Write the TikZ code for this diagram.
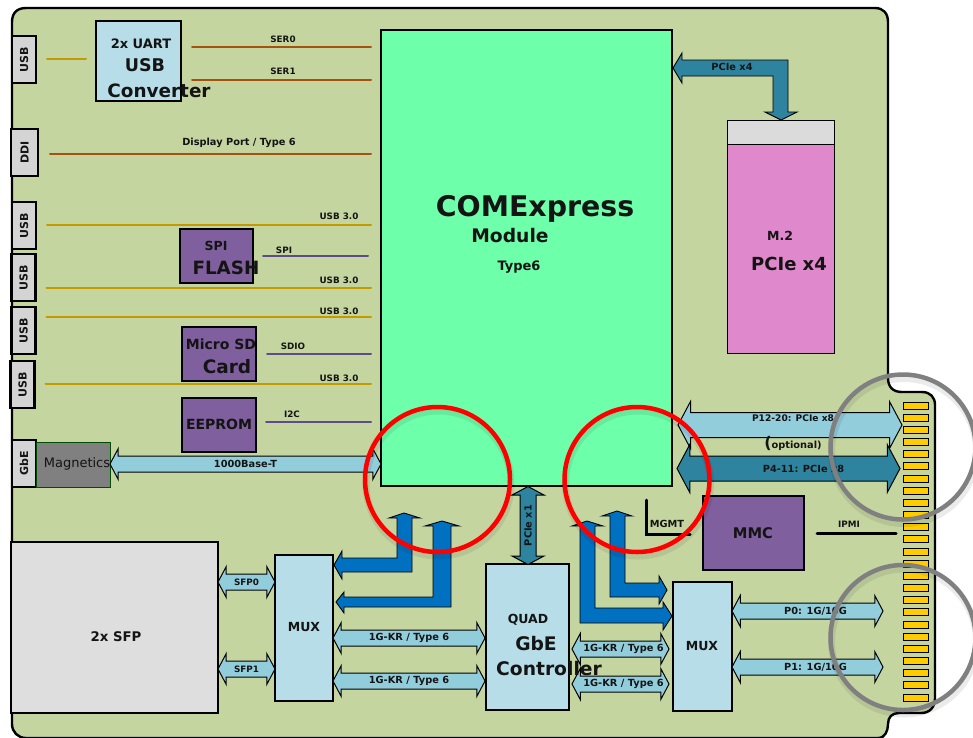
\documentclass[tikz,border=0pt]{standalone}
\usepackage{fontspec}
\setmainfont{DejaVu Sans}
\usepackage{tikz}
\usetikzlibrary{arrows.meta,shapes.arrows}
\definecolor{boardgreen}{HTML}{C5D5A0}
\definecolor{modulegreen}{HTML}{6DFFAA}
\definecolor{chipblue}{HTML}{B7DDE8}
\definecolor{chippurple}{HTML}{7F5F9E}
\definecolor{m2pink}{HTML}{DF89CC}
\definecolor{buslight}{HTML}{92CDDC}
\definecolor{busdark}{HTML}{2E839F}
\definecolor{busblue}{HTML}{0070C0}
\definecolor{wireserial}{HTML}{A5520F}
\definecolor{wireusb}{HTML}{C49A00}
\definecolor{wirepurple}{HTML}{5F4B8B}
\definecolor{fingeryellow}{HTML}{FFCC00}
\definecolor{darktext}{HTML}{141414}
\newcommand{\sized}[1]{\bfseries\fontsize{#1}{#1}\selectfont}

\begin{document}
\begin{tikzpicture}[
    x=1pt,
    y=-1pt,
    every node/.style={outer sep=0pt, text=darktext},
    box/.style={
        draw=black,
        line width=2.4pt,
        inner sep=0pt,
        align=center
    },
    chip/.style={box, fill=chipblue},
    flash/.style={box, fill=chippurple},
    port/.style={
        box,
        fill=black!17,
        minimum width=24pt,
        minimum height=47pt,
        font=\sized{11}
    },
    lbl/.style={inner sep=0pt, font=\sized{8.8}},
    lblwide/.style={inner sep=0pt, font=\sized{9.8}},
    wire/.style={line width=2pt, line cap=round},
    busarrow/.style={
        double arrow,
        draw=black,
        line width=1pt,
        fill=buslight,
        inner sep=0pt,
        text height=15pt,
        text depth=0pt,
        minimum width=30pt,
        double arrow head extend=7.5pt,
        double arrow tip angle=124
    },
    bentarrow/.style={draw=black, line width=0.9pt, fill=busblue},
    ring/.style={line width=4.5pt},
    ringshadow/.style={line width=7pt, draw=black, opacity=0.08}
]
    \useasboundingbox (0,0) rectangle (973,737);

    \draw[line width=2.4pt, fill=boardgreen]
        (12,22) .. controls (12,13) and (17,8) .. (26,8) -- (875,8)
        .. controls (883,8) and (888,13) .. (888,22) -- (888,378)
        .. controls (888,387) and (893,392) .. (902,392) -- (922,392)
        .. controls (930,392) and (935,397) .. (935,405) -- (935,698)
        .. controls (935,707) and (930,713) .. (921,713) -- (899,713)
        .. controls (892,713) and (888,717) .. (888,724)
        .. controls (888,731) and (885,738) .. (878,738) -- (26,738)
        .. controls (18,738) and (12,732) .. (12,724) -- cycle;

    \foreach \i in {0,...,24} {
        \node[draw=black, line width=1pt, fill=fingeryellow, inner sep=0pt,
            minimum width=25pt, minimum height=7pt]
            (finger\i) at (915.5,405.5+12.17*\i) {};
    }

    \node[box, fill=modulegreen, minimum width=291pt, minimum height=456pt]
        (module) at (526.5,258) {};
    \node[chip, minimum width=85pt, minimum height=80pt] (uart) at (138.5,61) {};
    \node[flash, minimum width=73pt, minimum height=54pt] (spiflash) at (216.5,256) {};
    \node[flash, minimum width=74pt, minimum height=54pt] (sdcard) at (219,354) {};
    \node[flash, minimum width=74pt, minimum height=54pt] (eeprom) at (219,425) {};
    \node[box, fill=black!14, line width=1pt, minimum width=107pt, minimum height=24pt]
        (m2slot) at (780.5,132) {};
    \node[box, fill=m2pink, line width=1pt, minimum width=107pt, minimum height=209pt]
        (m2) at (780.5,248.5) {};
    \node[box, fill=black!13, minimum width=207pt, minimum height=171pt]
        (sfp) at (114.5,627.5) {};
    \node[chip, minimum width=58pt, minimum height=146pt] (muxleft) at (304,628) {};
    \node[chip, minimum width=83pt, minimum height=146pt] (quad) at (527.5,637) {};
    \node[chip, minimum width=59pt, minimum height=129pt] (muxright) at (702.5,646.5) {};
    \node[flash, minimum width=101pt, minimum height=74pt] (mmc) at (753.5,533) {};

    \node[port] (usbA) at (24,59.5) {\rotatebox{90}{USB}};
    \node[port, minimum width=27pt] (ddi) at (24.5,152.5) {\rotatebox{90}{DDI}};
    \node[port] (usbB) at (24,225.5) {\rotatebox{90}{USB}};
    \node[port] (usbC) at (23.5,277.5) {\rotatebox{90}{USB}};
    \node[port] (usbD) at (23.5,330.5) {\rotatebox{90}{USB}};
    \node[port] (usbE) at (22.5,384.5) {\rotatebox{90}{USB}};
    \node[port] (gbe) at (24,463.5) {\rotatebox{90}{GbE}};
    \node[draw=black!70!green, line width=0.7pt, fill=black!50, inner sep=0pt,
        minimum width=74pt, minimum height=45pt] (magnetics) at (73,464.5) {};

    \draw[wire, wireusb, shorten <=11pt, shorten >=10pt] (usbA.east |- 0,59) -- (uart.west |- 0,59);
    \draw[wire, wireserial, shorten <=11pt] (uart.east |- 0,47) -- (371,47);
    \draw[wire, wireserial, shorten <=11pt] (uart.east |- 0,80) -- (371,80);
    \draw[wire, wireserial, shorten <=12pt, shorten >=10pt] (ddi.east |- 0,154) -- (module.west |- 0,154);
    \foreach \y/\from in {225/usbB,288/usbC,317/usbD,384/usbE} {
        \draw[wire, wireusb, shorten <=11pt, shorten >=10pt] (\from.east |- 0,\y) -- (module.west |- 0,\y);
    }
    \draw[wire, wirepurple, shorten <=10pt, shorten >=13pt] (spiflash.east |- 0,256) -- (module.west |- 0,256);
    \draw[wire, wirepurple, shorten <=11pt, shorten >=10pt] (sdcard.east |- 0,354) -- (module.west |- 0,354);
    \draw[wire, wirepurple, shorten <=10pt, shorten >=10pt] (eeprom.east |- 0,422) -- (module.west |- 0,422);

    \coordinate (mgmtstart) at (646,500);
    \coordinate (mgmtend) at (690,534);
    \coordinate (ipmiend) at (896,533);
    \draw[line width=3pt, line cap=round] (mgmtstart) |- (mgmtend);
    \draw[line width=3pt, line cap=round, shorten <=13pt] (mmc.east) -- (ipmiend);

    \node[busarrow, minimum height=271pt, label={[lblwide]center:1000Base-T}] (phylink) at (245.5,464) {};
    \node[busarrow, minimum height=57pt, label={[lbl]center:SFP0}] (sfpzero) at (246.5,582) {};
    \node[busarrow, minimum height=57pt, label={[lbl]center:SFP1}] (sfpone) at (246.5,669) {};
    \node[busarrow, minimum height=152pt, label={[lblwide]center:1G-KR / Type 6}] (krA) at (409,638) {};
    \node[busarrow, minimum height=152pt, label={[lblwide]center:1G-KR / Type 6}] (krB) at (409,681) {};
    \node[busarrow, minimum height=97pt, label={[lblwide,xshift=3pt]center:1G-KR / Type 6}] (krC) at (620.5,649) {};
    \node[busarrow, minimum height=97pt, label={[lblwide,xshift=3pt]center:1G-KR / Type 6}] (krD) at (620.5,684) {};
    \node[busarrow, minimum height=151pt, label={[lblwide,xshift=8pt]center:P0: 1G/10G}] (pzero) at (807.5,611) {};
    \node[busarrow, minimum height=151pt, label={[lblwide,xshift=8pt]center:P1: 1G/10G}] (pone) at (807.5,667) {};
    \node[busarrow, minimum height=224pt, text height=24pt, minimum width=46pt, double arrow head extend=11pt,
        label={[lbl,font=\sized{9.1},yshift=7pt,xshift=3pt]center:P12-20: PCIe x8}] (pcieoptional) at (790,425) {};
    \node[busarrow, fill=busdark, minimum height=223pt, text height=24pt, minimum width=47pt, double arrow head extend=11.5pt,
        label={[lblwide,xshift=15pt]center:P4-11: PCIe x8}] (pciemain) at (788.5,468.5) {};
    \node[busarrow, fill=busdark, rotate=90, minimum height=78pt, minimum width=31pt,
        double arrow head extend=8pt, label={[lblwide,rotate=90]center:PCIe x1}] (pcieone) at (528,525.5) {};

    \draw[bentarrow, fill=busdark] (673,68) -- (682,53) -- (682,60) -- (788,60) -- (788,112) -- (797,112)
        -- (781,120) -- (765,112) -- (773,112) -- (773,76) -- (682,76) -- (682,83) -- cycle;
    \draw[bentarrow] (404,513) -- (420,518) -- (412,518) -- (412,572) -- (342,572) -- (342,579)
        -- (334,565) -- (342,551) -- (342,558) -- (397,558) -- (397,518) -- (389,518) -- cycle;
    \draw[bentarrow] (442,521) -- (459,526) -- (451,526) -- (451,607) -- (344,607) -- (344,613)
        -- (336,602) -- (344,592) -- (344,597) -- (433,597) -- (433,526) -- (425,526) -- cycle;
    \draw[bentarrow] (617,511) -- (632,516) -- (625,516) -- (625,583) -- (659,583) -- (659,576)
        -- (667,590) -- (659,604) -- (659,597) -- (610,597) -- (610,516) -- (602,516) -- cycle;
    \draw[bentarrow] (587,521) -- (603,526) -- (595,526) -- (595,608) -- (663,608) -- (663,602)
        -- (672,616) -- (663,630) -- (663,623) -- (580,623) -- (580,526) -- (572,526) -- cycle;

    \node[lbl] (serzerolabel) at (283,39) {SER0};
    \node[lbl] (seronelabel) at (283,71) {SER1};
    \node[lblwide] (ddilabel) at (239,143) {Display Port / Type 6};
    \node[lbl] (usblabelA) at (339,216) {USB 3.0};
    \node[lbl] (usblabelB) at (339,280) {USB 3.0};
    \node[lbl] (usblabelC) at (339,311) {USB 3.0};
    \node[lbl] (usblabelD) at (339,378) {USB 3.0};
    \node[lbl] (spilabel) at (284,250) {SPI};
    \node[lbl] (sdiolabel) at (293,346) {SDIO};
    \node[lbl] (i2clabel) at (292,414) {I2C};
    \node[lblwide] (pciefourlabel) at (732,67) {PCIe x4};
    \node[lblwide] (mgmtlabel) at (667,524) {MGMT};
    \node[lbl] (ipmilabel) at (849,524) {IPMI};
    \node[lblwide] (optionallabel) at (793,443) {{\sized{16}(}optional)};

    \node[lbl, font=\sized{13}] (uarttitle) at (141,44) {2x UART};
    \node[lbl, font=\sized{17.5}] (uartusb) at (145,65) {USB};
    \node[lbl, font=\sized{18.4}] (uartconv) at (159,91) {Converter};
    \node[lbl, font=\sized{12.5}] (spititle) at (216,246) {SPI};
    \node[lbl, font=\sized{18.3}] (flashtitle) at (226,268) {FLASH};
    \node[lbl, font=\sized{14}] (microsd) at (221,344) {Micro SD};
    \node[lbl, font=\sized{18.5}] (cardtitle) at (227,367) {Card};
    \node[lbl, font=\sized{14}] (eepromtitle) at (219,424) {EEPROM};
    \node[lbl, font=\sized{13}] (magneticstitle) at (77,464) {\mdseries Magnetics};
    \node[lbl, font=\sized{28.4}] (comexpress) at (535,209) {COMExpress};
    \node[lbl, font=\sized{18.7}] (moduletitle) at (510,236) {Module};
    \node[lbl, font=\sized{13}] (typesix) at (519,267) {Type6};
    \node[lbl, font=\sized{12.5}] (mtwo) at (780,236) {M.2};
    \node[lbl, font=\sized{18}] (mtwotype) at (789,264) {PCIe x4};
    \node[lbl, font=\sized{13.3}] (sfptitle) at (116,637) {2x SFP};
    \node[lbl, font=\sized{12.5}] (muxlefttitle) at (304,627) {MUX};
    \node[lbl, font=\sized{12.5}] (muxrighttitle) at (702,646) {MUX};
    \node[lbl, font=\sized{12.5}] (quadtitle) at (528,620) {QUAD};
    \node[lbl, font=\sized{18.7}] (gbetitle) at (536,644) {GbE};
    \node[lbl, font=\sized{18.7}] (controllertitle) at (549,669) {Controller};
    \node[lbl, font=\sized{14.7}] (mmctitle) at (753,533) {MMC};

    \foreach \cx/\cy/\ringcolor in {437.5/479.5/red,637/479.5/red,903/447/black!50,903/637.5/black!50} {
        \draw[ringshadow] (\cx+1,\cy+4) circle (72.5);
        \draw[ring, draw=\ringcolor] (\cx,\cy) circle (72.5);
    }
\end{tikzpicture}
\end{document}
